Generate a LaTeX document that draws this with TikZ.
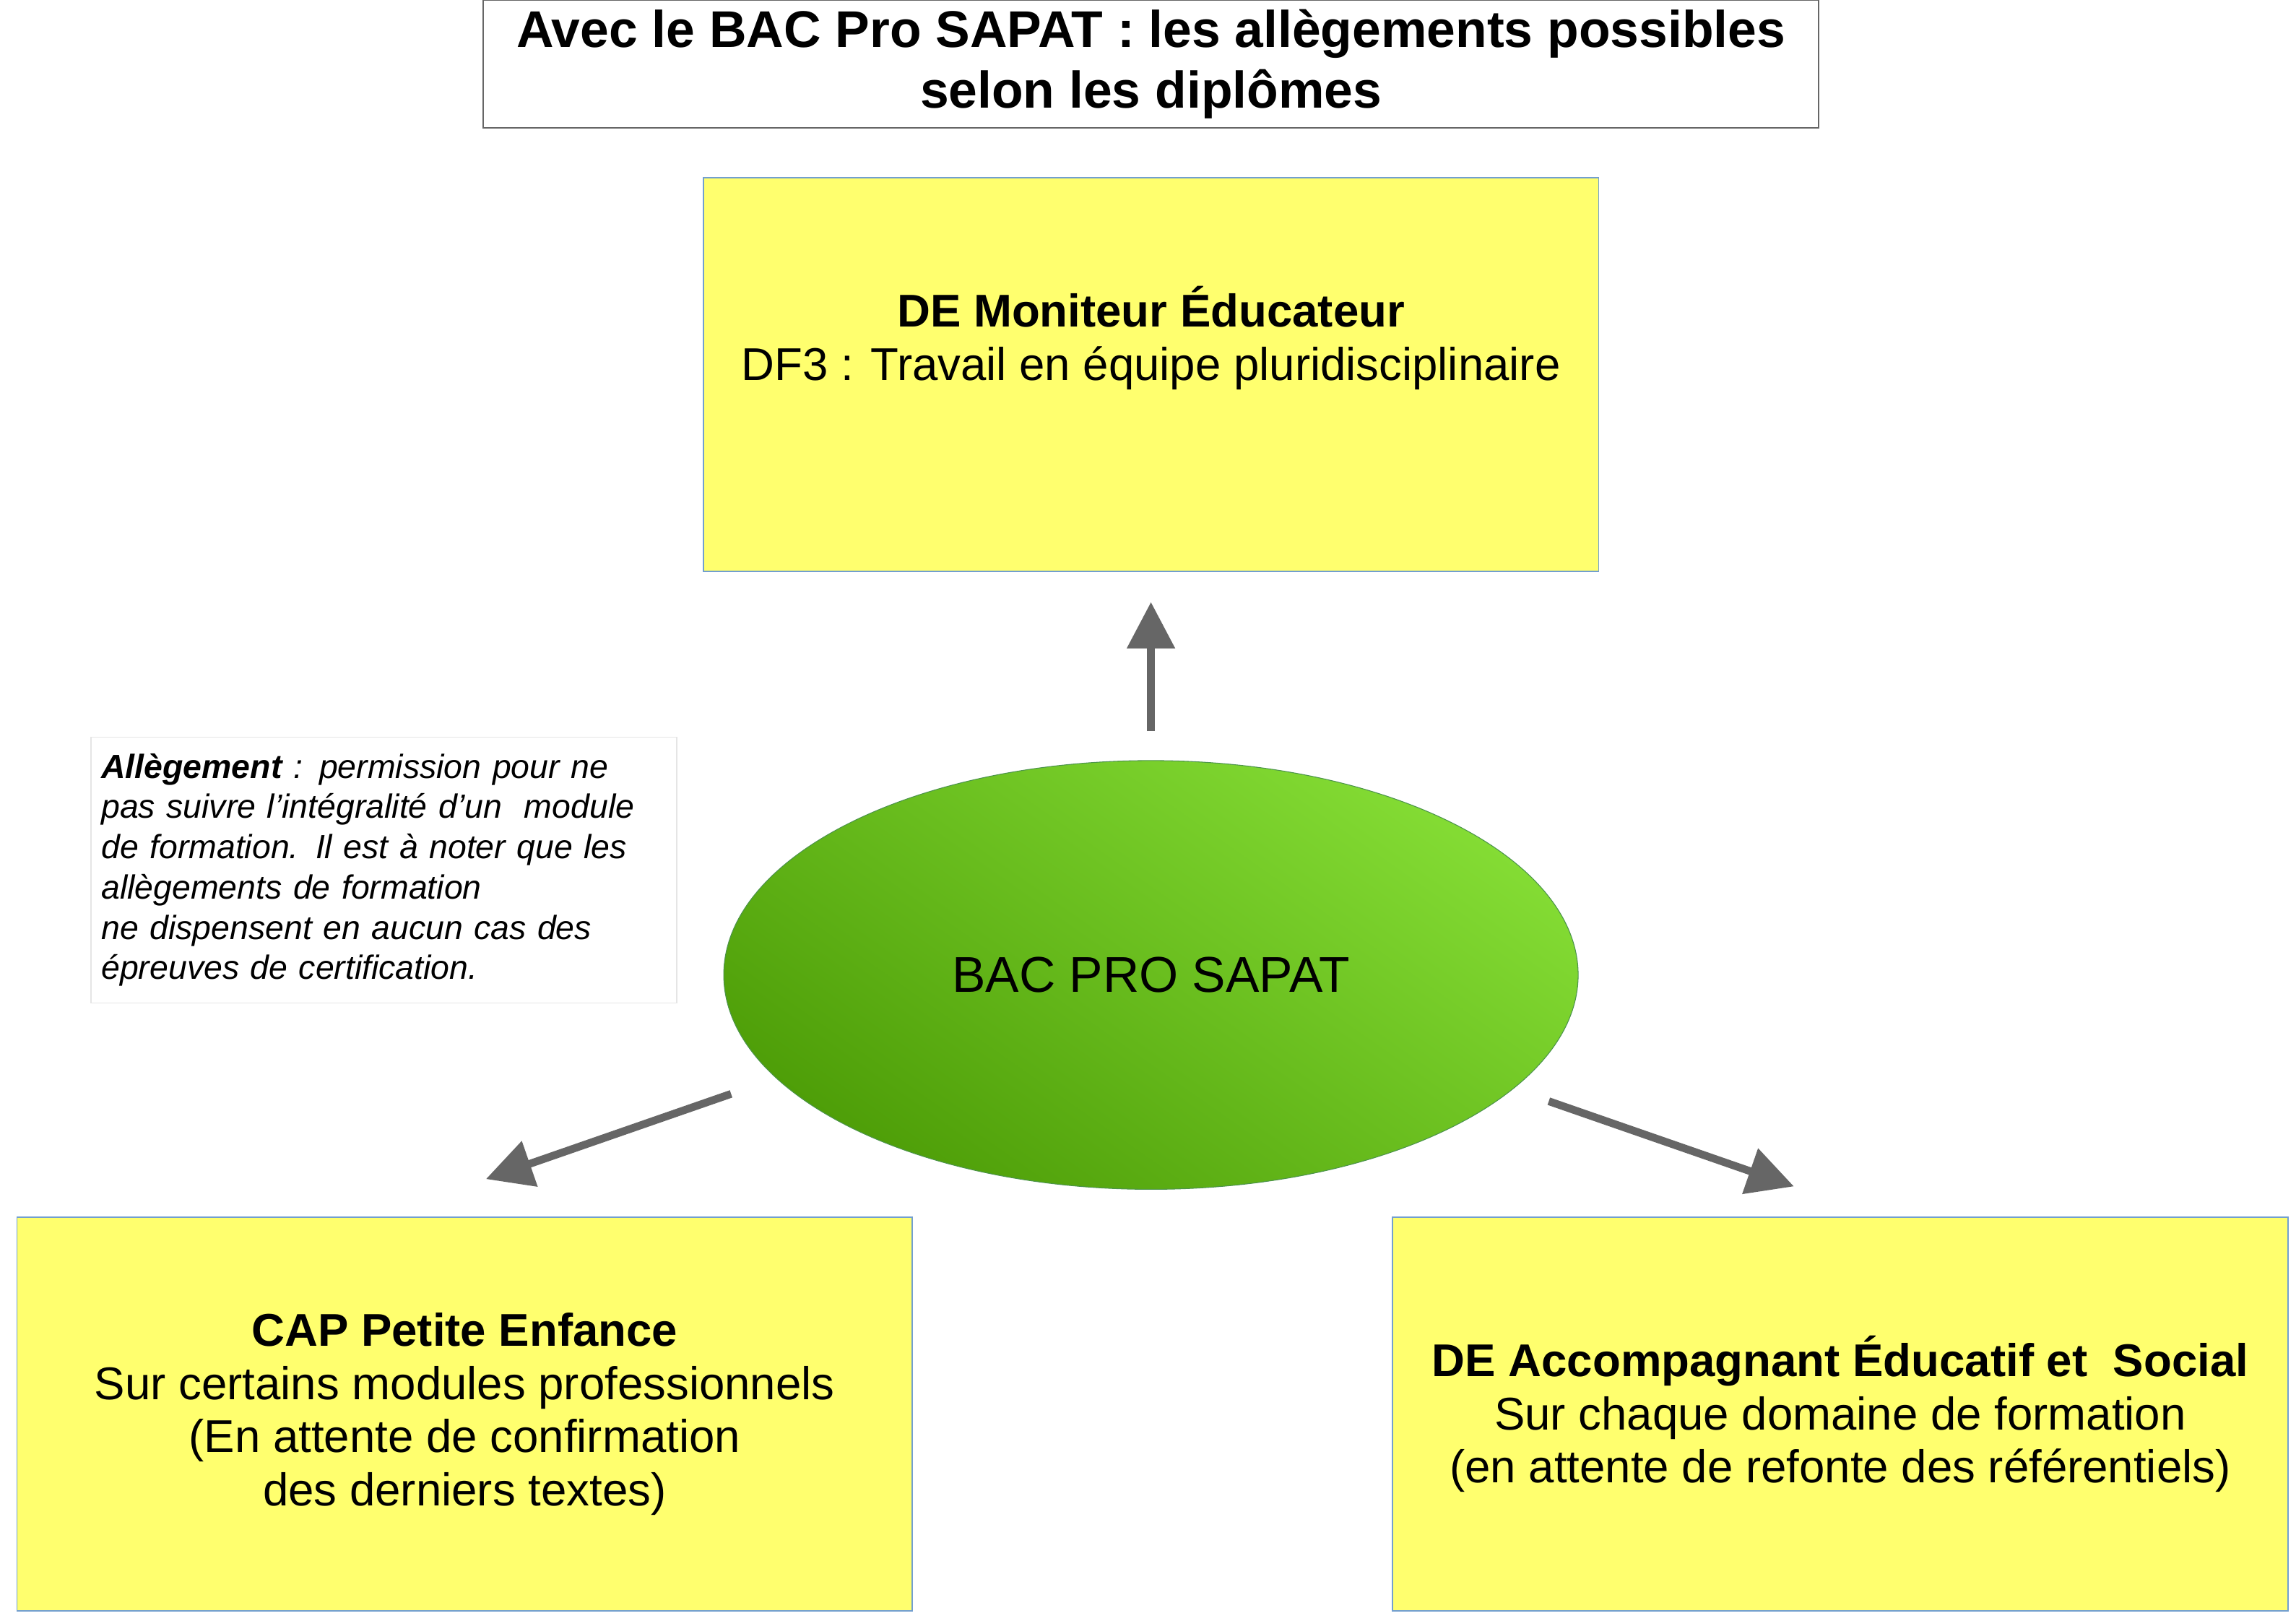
\documentclass[tikz,border=0pt]{standalone}
\usepackage{fontspec}
\setmainfont{Liberation Sans}
\usetikzlibrary{arrows.meta,shapes.geometric}
\definecolor{gl}{HTML}{84DC34}
\definecolor{gd}{HTML}{4E9E08}
\definecolor{yb}{HTML}{FFFF6E}
\definecolor{bb}{HTML}{729FCF}
\begin{document}
\begin{tikzpicture}[x=0.02cm,y=-0.02cm,
 ybox/.style={draw=bb,fill=yb,line width=0.5pt,minimum width=12.2cm,minimum height=5.36cm,align=center,font=\fontsize{17.8}{20.6}\selectfont},
 conn/.style={draw=black!60,line width=3pt,-{Triangle[length=18pt,width=18pt]}}]
\useasboundingbox (0,0) rectangle (1564,1104);
\node[draw=black!60,line width=0.5pt,minimum width=18.2cm,minimum height=1.74cm,align=center,font=\bfseries\fontsize{20}{23.5}\selectfont] (title) at (784,43.5) {Avec le BAC Pro SAPAT : les allègements possibles\\selon les diplômes};
\node[ybox] (top) at (784,255) {\textbf{DE Moniteur Éducateur}\\DF3 : Travail en équipe pluridisciplinaire\\[0.4cm]};
\node[ybox] (left) at (316.5,963) {\textbf{CAP Petite Enfance}\\Sur certains modules professionnels\\(En attente de confirmation\\des derniers textes)};
\node[ybox] (right) at (1253.5,963) {\textbf{DE Accompagnant Éducatif et\ \ Social}\\Sur chaque domaine de formation\\(en attente de refonte des référentiels)};
\shade[left color=gl, right color=gd, shading angle=-35,draw=green!40!black!70,line width=0.3pt] (784,664) ellipse [x radius=291, y radius=146];
\node[ellipse,minimum width=11.64cm,minimum height=5.84cm,font=\fontsize{19.5}{23}\selectfont] (bac) at (784,664) {BAC PRO SAPAT};
\node[draw=black!10,line width=0.4pt,minimum width=7.86cm,minimum height=3.62cm,align=left,text width=7.7cm,inner sep=4pt,font=\itshape\fontsize{13}{15.6}\selectfont] (note) at (261.5,592.5) {\textbf{Allègement} : permission pour ne\\pas suivre l'intégralité d'un\ \ module\\de formation. Il est à noter que les\\allègements de formation\\ne dispensent en aucun cas des\\épreuves de certification.};
\coordinate (a1) at (784,498); \coordinate (b1) at (784,410);
\coordinate (a2) at (498,745); \coordinate (b2) at (331,803);
\coordinate (a3) at (1055,750); \coordinate (b3) at (1222,808);
\draw[conn] (a1) -- (b1);
\draw[conn] (a2) -- (b2);
\draw[conn] (a3) -- (b3);
\end{tikzpicture}
\end{document}
